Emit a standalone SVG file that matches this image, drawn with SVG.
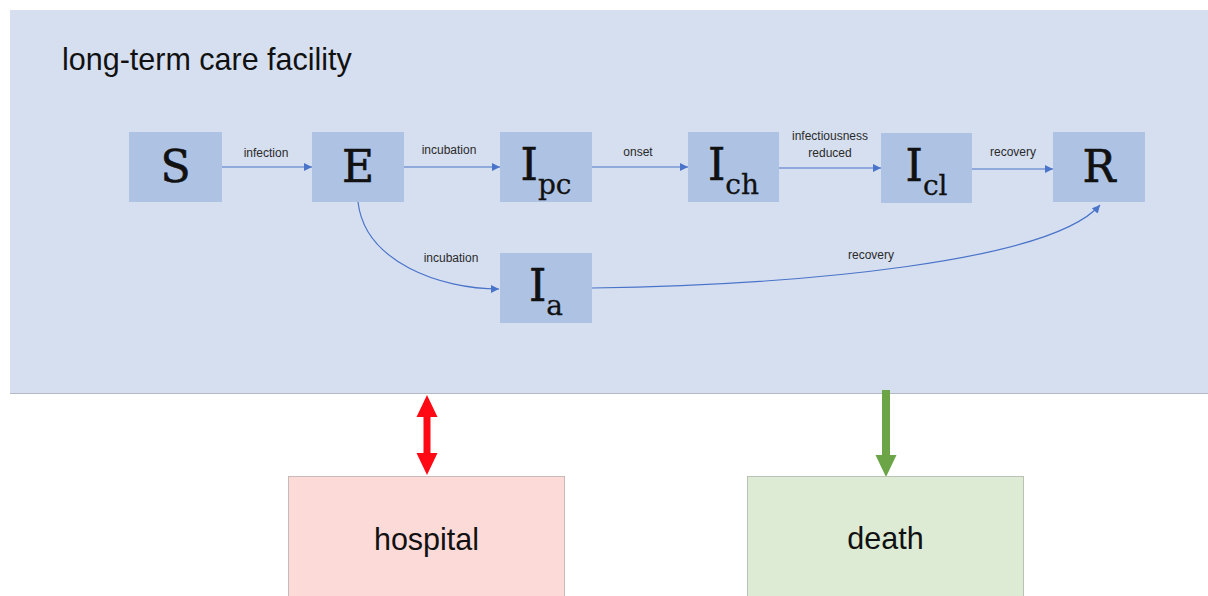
<svg xmlns="http://www.w3.org/2000/svg" width="1208" height="596" viewBox="0 0 1208 596">
<defs>
<style>
.node rect{fill:#AEC3E4;}
.sym{font-family:"DejaVu Serif",serif;font-size:44px;fill:#111;stroke:#111;stroke-width:0.6;text-anchor:middle;}
.sub{font-size:28px;stroke-width:0.3;}
.lbl{font-family:"Liberation Sans",Arial,sans-serif;font-size:12px;fill:#2a2a2a;text-anchor:middle;}
.edge{fill:none;stroke:#4A74C9;stroke-width:1.2;marker-end:url(#ah);}
.big{font-family:"Liberation Sans",Arial,sans-serif;font-size:30.5px;fill:#111;}
</style>
<marker id="ah" viewBox="0 0 10 10" refX="10" refY="5" markerWidth="8" markerHeight="8" markerUnits="userSpaceOnUse" orient="auto">
<path d="M0,0 L10,5 L0,10 z" fill="#4A74C9"/>
</marker>
</defs>
<rect x="0" y="0" width="1208" height="596" fill="#ffffff"/>
<g id="facility">
<rect x="10" y="10" width="1198" height="383" fill="#D6DFF0"/>
<line x1="10" y1="393.5" x2="1208" y2="393.5" stroke="#B4B8C0" stroke-width="1"/>
<text class="big" x="62" y="70">long-term care facility</text>
</g>
<g id="connectors">
<path class="edge" d="M222,167 L312,167"/>
<path class="edge" d="M404,167 L500,167"/>
<path class="edge" d="M592,167 L688,167"/>
<path class="edge" d="M779,168 L881,168"/>
<path class="edge" d="M972,169 L1053,169"/>
<path class="edge" d="M358,202 C365,262 440,289 499,289"/>
<path class="edge" d="M592,288 C800,285 1050,262 1100,205"/>
<text class="lbl" x="266" y="157">infection</text>
<text class="lbl" x="449" y="154">incubation</text>
<text class="lbl" x="638" y="156">onset</text>
<text class="lbl" x="830" y="140">infectiousness</text>
<text class="lbl" x="830" y="157">reduced</text>
<text class="lbl" x="1013" y="156">recovery</text>
<text class="lbl" x="451" y="262">incubation</text>
<text class="lbl" x="871" y="259">recovery</text>
<g id="hospital-arrow" fill="#FF0A14">
<path d="M427,395 L437.5,417 L430.5,417 L430.5,453 L437.5,453 L427,475 L416.5,453 L423.5,453 L423.5,417 L416.5,417 z"/>
</g>
<g id="death-arrow" fill="#6BA547">
<path d="M882,390 L890,390 L890,455 L896.5,455 L886,477 L875.5,455 L882,455 z"/>
</g>
</g>
<g id="S" class="node"><rect x="129" y="132" width="93" height="70"/><text class="sym" x="175.5" y="182">S</text></g>
<g id="E" class="node"><rect x="312" y="132" width="92" height="70"/><text class="sym" x="358" y="182">E</text></g>
<g id="Ipc" class="node"><rect x="500" y="132" width="92" height="70"/><text class="sym" x="546" y="180">I<tspan class="sub" dy="14">pc</tspan></text></g>
<g id="Ich" class="node"><rect x="688" y="132" width="91" height="70"/><text class="sym" x="733.5" y="180">I<tspan class="sub" dy="14">ch</tspan></text></g>
<g id="Icl" class="node"><rect x="881" y="133" width="91" height="70"/><text class="sym" x="926.5" y="181">I<tspan class="sub" dy="14">cl</tspan></text></g>
<g id="R" class="node"><rect x="1053" y="132" width="92" height="70"/><text class="sym" x="1099" y="182">R</text></g>
<g id="Ia" class="node"><rect x="500" y="253" width="92" height="70"/><text class="sym" x="546" y="301">I<tspan class="sub" dy="14">a</tspan></text></g>
<g id="hospital">
<rect x="288.5" y="476.5" width="276" height="130" fill="#FCDAD8" stroke="#C9B9B9" stroke-width="1"/>
<text class="big" x="426.5" y="550" text-anchor="middle">hospital</text>
</g>
<g id="death">
<rect x="747.5" y="476.5" width="276" height="130" fill="#DDEBD5" stroke="#B9C2B5" stroke-width="1"/>
<text class="big" x="885.5" y="549" text-anchor="middle">death</text>
</g>
</svg>
